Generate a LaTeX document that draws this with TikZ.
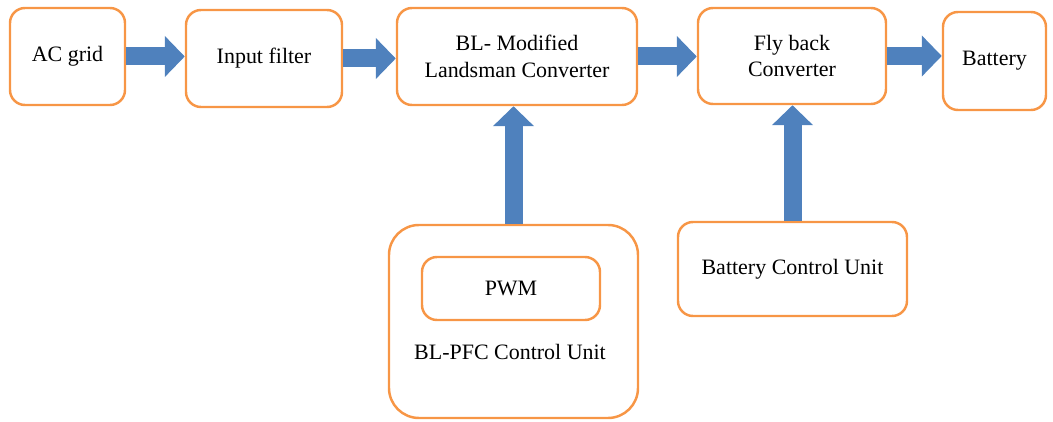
\documentclass[tikz,border=0pt]{standalone}
\usepackage{fontspec}
\setmainfont{Liberation Serif}
\usetikzlibrary{arrows.meta}
\definecolor{boxorange}{HTML}{F79646}
\definecolor{flowblue}{HTML}{4F81BD}
\definecolor{flowedge}{HTML}{385D8A}
\tikzset{
  block/.style={draw=boxorange,line width=1.4pt,rounded corners=0.3cm,
    align=center,font=\fontsize{12.5}{15}\selectfont},
  flow/.style={line width=0.36cm,draw=flowblue,
    -{Triangle[length=0.4cm,width=0.8cm]}}
}
\begin{document}
\begin{tikzpicture}
      \useasboundingbox (0,0) rectangle (21.06,-8.44);
      \node[block,minimum width=2.3cm,minimum height=1.94cm] (acgrid) at (1.35,-1.13) {AC grid};
      \node[block,minimum width=3.12cm,minimum height=1.94cm] (filter) at (5.28,-1.17) {Input filter};
      \node[block,minimum width=4.8cm,minimum height=1.94cm] (landsman) at (10.34,-1.13)
        {BL- Modified\\Landsman Converter};
      \node[block,minimum width=3.76cm,minimum height=1.92cm] (flyback) at (15.84,-1.12)
        {Fly back\\Converter};
      \node[block,minimum width=2.06cm,minimum height=1.96cm] (battery) at (19.89,-1.22) {Battery};
      \node[block,minimum width=4.98cm,minimum height=3.86cm,rounded corners=0.6cm] (pfc) at (10.27,-6.43) {};
      \node[block,minimum width=3.56cm,minimum height=1.26cm] (pwm) at (10.22,-5.77) {PWM};
      \node[font=\fontsize{12.5}{15}\selectfont] (pfclabel) at (10.2,-7.04) {BL-PFC Control Unit};
      \node[block,minimum width=4.58cm,minimum height=1.88cm] (bcu) at (15.85,-5.38) {Battery Control Unit};
      \draw[flow] (acgrid.east) -- (acgrid.east -| filter.west);
      \draw[flow] (filter.east) -- (filter.east -| landsman.west);
      \draw[flow] (landsman.east) -- (landsman.east -| flyback.west);
      \draw[flow] (flyback.east) -- (flyback.east -| battery.west);
      \draw[flow] (pfc.north) -- (pfc.north |- landsman.south);
      \draw[flow] (bcu.north) -- (bcu.north |- flyback.south);
    \end{tikzpicture}
\end{document}
